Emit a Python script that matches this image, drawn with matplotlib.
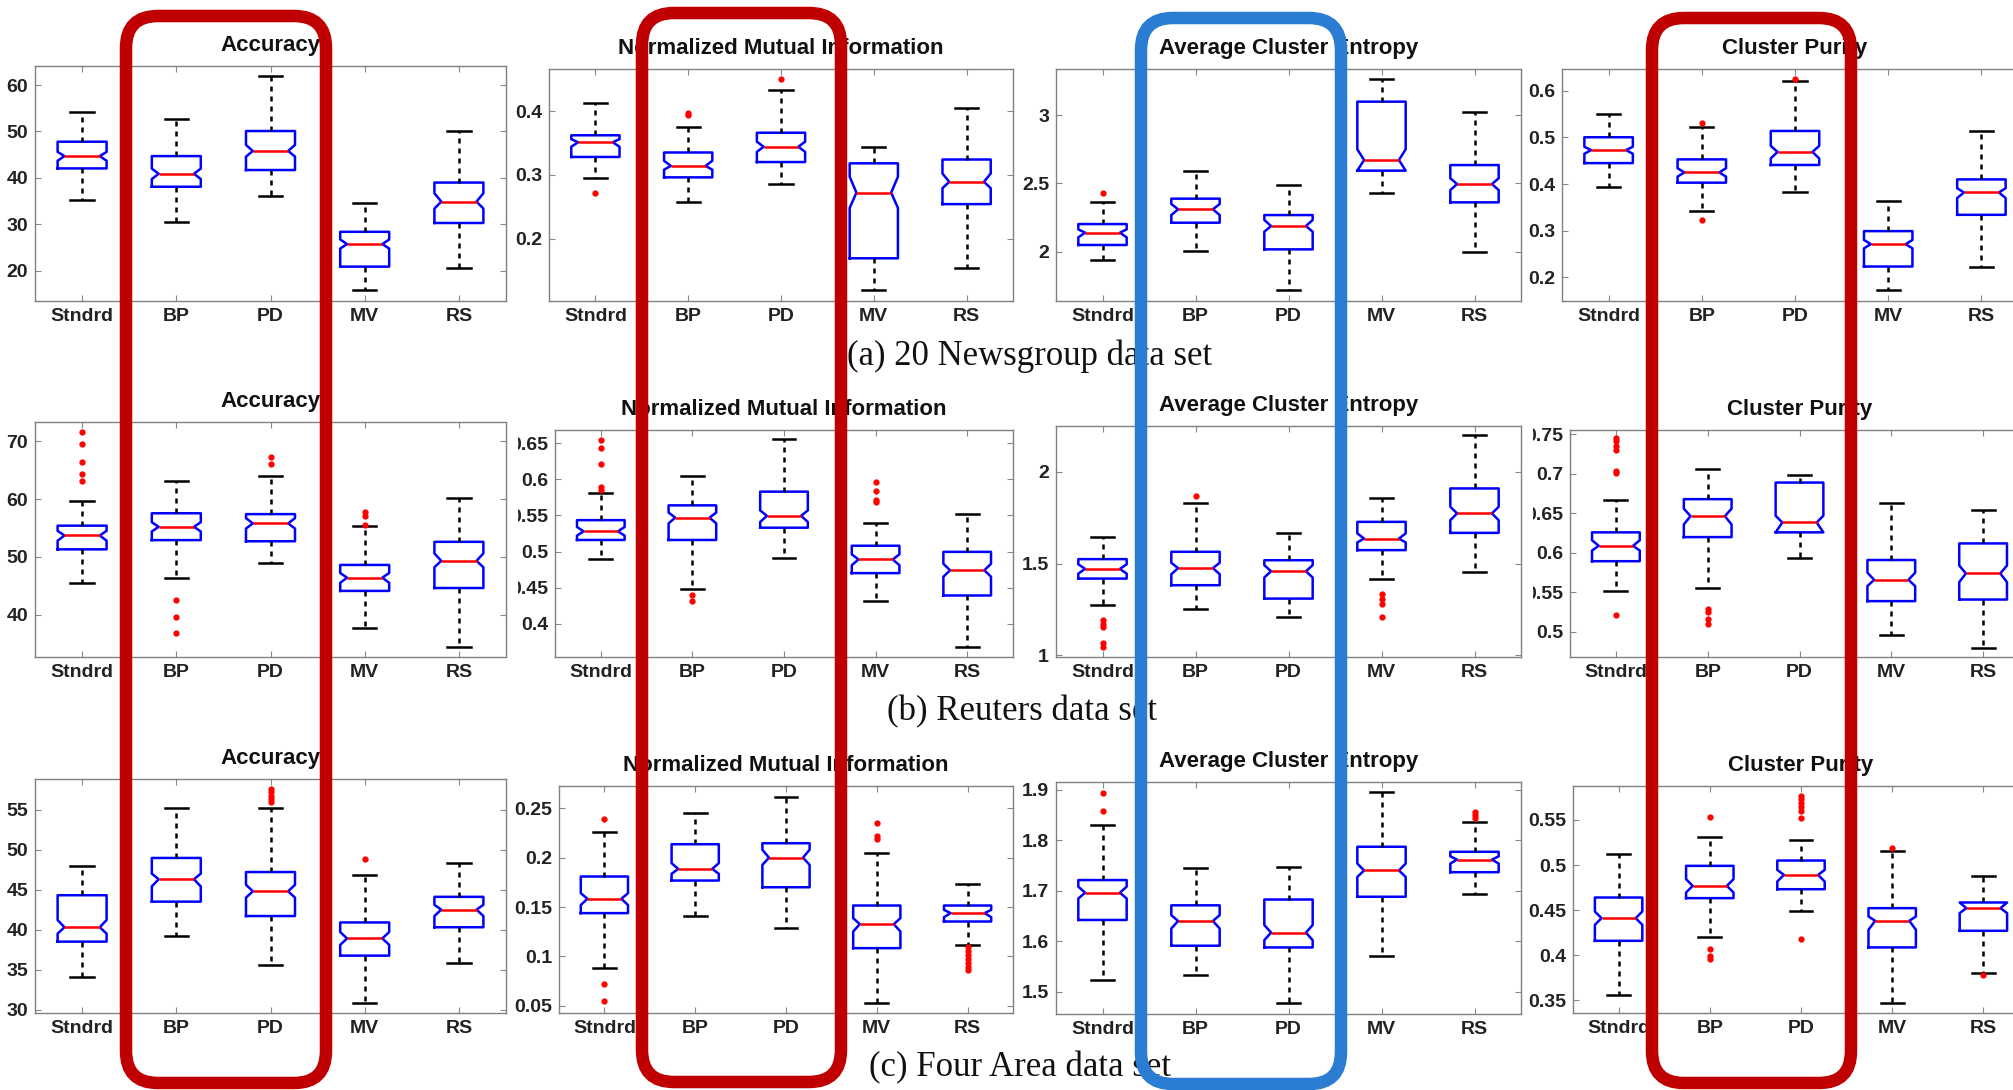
import matplotlib
matplotlib.use("Agg")
import matplotlib.pyplot as plt
from matplotlib.patches import FancyBboxPatch
from matplotlib.ticker import FormatStrFormatter
from matplotlib.transforms import Bbox, TransformedBbox

methods = ["Stndrd", "BP", "PD", "MV", "RS"]
metrics = ["Accuracy", "Normalized Mutual Information", "Average Cluster Entropy", "Cluster Purity"]
captions = ["(a) 20 Newsgroup data set", "(b) Reuters data set", "(c) Four Area data set"]

# one row per method: whislo, q1, cilo, med, cihi, q3, whishi
news_acc = [[35.2, 42.05, 43.7, 44.7, 45.6, 47.8, 54.3],
            [30.6, 38.1, 39.75, 40.9, 42.0, 44.7, 52.7],
            [36.1, 41.7, 44.6, 45.8, 47.1, 50.1, 61.9],
            [15.8, 20.9, 24.8, 25.75, 26.75, 28.4, 34.65],
            [20.6, 30.3, 33.4, 34.9, 36.7, 39.0, 50.0]]
news_acc_out = [[], [], [], [], []]

news_nmi = [[0.295, 0.328, 0.344, 0.351, 0.356, 0.362, 0.412],
            [0.257, 0.296, 0.308, 0.314, 0.322, 0.335, 0.375],
            [0.285, 0.320, 0.336, 0.344, 0.352, 0.366, 0.433],
            [0.120, 0.169, 0.248, 0.272, 0.297, 0.318, 0.343],
            [0.154, 0.254, 0.279, 0.289, 0.302, 0.324, 0.405]]
news_nmi_out = [[0.272], [0.394, 0.397], [0.450], [], []]

news_ace = [[1.939, 2.049, 2.105, 2.139, 2.163, 2.202, 2.366],
            [2.007, 2.212, 2.268, 2.310, 2.349, 2.388, 2.593],
            [1.720, 2.017, 2.146, 2.188, 2.232, 2.268, 2.485],
            [2.427, 2.593, 2.593, 2.671, 2.749, 3.098, 3.261],
            [2.000, 2.361, 2.451, 2.495, 2.537, 2.634, 3.024]]
news_ace_out = [[2.427], [], [], [], []]

news_pur = [[0.393, 0.445, 0.465, 0.473, 0.480, 0.5005, 0.551],
            [0.343, 0.403, 0.416, 0.425, 0.434, 0.453, 0.522],
            [0.382, 0.441, 0.455, 0.469, 0.482, 0.514, 0.622],
            [0.173, 0.223, 0.262, 0.271, 0.280, 0.299, 0.363],
            [0.223, 0.334, 0.370, 0.382, 0.391, 0.410, 0.513]]
news_pur_out = [[], [0.532, 0.323], [0.626], [], []]

reut_acc = [[45.5, 51.3, 52.8, 53.7, 54.5, 55.4, 59.75],
            [46.3, 52.9, 54.4, 55.2, 56.0, 57.55, 63.2],
            [48.9, 52.7, 54.9, 55.8, 56.7, 57.4, 64.0],
            [37.75, 44.1, 45.5, 46.4, 47.2, 48.6, 55.35],
            [34.4, 44.6, 48.2, 49.3, 50.6, 52.6, 60.2]]
reut_acc_out = [[71.6, 69.6, 66.4, 64.3, 63.2], [42.6, 39.5, 36.8], [67.3, 66.0],
                [57.8, 57.1, 55.6], []]

reut_nmi = [[0.489, 0.516, 0.522, 0.528, 0.534, 0.5435, 0.5815],
            [0.448, 0.516, 0.539, 0.547, 0.554, 0.564, 0.6046],
            [0.491, 0.533, 0.541, 0.5495, 0.557, 0.583, 0.656],
            [0.4315, 0.470, 0.481, 0.489, 0.496, 0.508, 0.540],
            [0.3676, 0.439, 0.465, 0.474, 0.483, 0.4995, 0.552]]
reut_nmi_out = [[0.654, 0.643, 0.622, 0.590, 0.585], [0.439, 0.432], [],
                [0.596, 0.584, 0.571, 0.568], []]

reut_ace = [[1.276, 1.418, 1.445, 1.471, 1.496, 1.524, 1.645],
            [1.255, 1.382, 1.442, 1.475, 1.504, 1.564, 1.831],
            [1.209, 1.309, 1.424, 1.458, 1.491, 1.518, 1.664],
            [1.415, 1.573, 1.615, 1.636, 1.664, 1.727, 1.855],
            [1.453, 1.667, 1.736, 1.773, 1.809, 1.909, 2.198]]
reut_ace_out = [[1.191, 1.173, 1.155, 1.067, 1.045], [1.867], [],
                [1.336, 1.309, 1.282, 1.209], []]

reut_pur = [[0.5515, 0.5895, 0.603, 0.609, 0.616, 0.626, 0.667],
            [0.556, 0.620, 0.636, 0.6465, 0.656, 0.668, 0.706],
            [0.593, 0.626, 0.626, 0.6385, 0.647, 0.689, 0.698],
            [0.4966, 0.539, 0.558, 0.566, 0.575, 0.591, 0.6626],
            [0.480, 0.541, 0.563, 0.574, 0.584, 0.612, 0.654]]
reut_pur_out = [[0.745, 0.741, 0.735, 0.730, 0.703, 0.701, 0.522],
                [0.5296, 0.525, 0.517, 0.510], [], [], []]

four_acc = [[34.04, 38.5, 39.5, 40.3, 41.2, 44.3, 47.9],
            [39.2, 43.5, 45.4, 46.3, 47.0, 48.96, 55.25],
            [35.6, 41.7, 44.0, 44.8, 45.6, 47.2, 55.2],
            [30.8, 36.75, 38.1, 38.9, 39.7, 40.9, 46.8],
            [35.8, 40.3, 41.7, 42.5, 43.1, 44.1, 48.3]]
four_acc_out = [[], [], [57.6, 57.2, 56.75, 56.3, 56.0], [48.8], []]

four_nmi = [[0.0885, 0.1438, 0.152, 0.1583, 0.164, 0.1809, 0.2257],
            [0.1411, 0.1768, 0.1836, 0.1886, 0.1944, 0.2136, 0.2456],
            [0.1286, 0.170, 0.1927, 0.200, 0.208, 0.2146, 0.2618],
            [0.0527, 0.1083, 0.1252, 0.1326, 0.1387, 0.1515, 0.2045],
            [0.1117, 0.1353, 0.1397, 0.1438, 0.1471, 0.1515, 0.1731]]
four_nmi_out = [[0.239, 0.0723, 0.0547], [], [], [0.235, 0.222, 0.2186],
                [0.109, 0.105, 0.101, 0.097, 0.093, 0.089, 0.0865]]

four_ace = [[1.524, 1.642, 1.6845, 1.696, 1.708, 1.721, 1.830],
            [1.534, 1.591, 1.625, 1.640, 1.6516, 1.671, 1.7445],
            [1.477, 1.5876, 1.602, 1.617, 1.632, 1.6825, 1.746],
            [1.5705, 1.688, 1.7273, 1.740, 1.7537, 1.787, 1.895],
            [1.693, 1.7366, 1.7537, 1.7616, 1.768, 1.777, 1.8354]]
four_ace_out = [[1.893, 1.858], [], [], [], [1.856, 1.849, 1.843]]

four_pur = [[0.3563, 0.416, 0.4338, 0.4411, 0.4485, 0.464, 0.512],
            [0.4197, 0.4633, 0.4696, 0.4769, 0.4843, 0.4991, 0.5308],
            [0.4485, 0.4732, 0.4817, 0.4891, 0.4946, 0.505, 0.5279],
            [0.347, 0.4087, 0.4282, 0.4382, 0.443, 0.4522, 0.5157],
            [0.3803, 0.4271, 0.4467, 0.4522, 0.4585, 0.4585, 0.4884]]
four_pur_out = [[], [0.553, 0.4068, 0.3987, 0.3958],
                [0.5766, 0.573, 0.5685, 0.564, 0.560, 0.5518, 0.4179], [0.5186], [0.3784]]

ylims = [(13.5, 64.1), (0.102, 0.466), (1.639, 3.337), (0.149, 0.647),
         (32.65, 73.36), (0.3537, 0.6685), (0.991, 2.249), (0.4683, 0.7555),
         (29.58, 58.83), (0.0426, 0.2726), (1.4558, 1.9152), (0.336, 0.5876)]
yticks = [[20, 30, 40, 50, 60], [0.2, 0.3, 0.4], [2, 2.5, 3], [0.2, 0.3, 0.4, 0.5, 0.6],
          [40, 50, 60, 70], [0.4, 0.45, 0.5, 0.55, 0.6, 0.65], [1, 1.5, 2], [0.5, 0.55, 0.6, 0.65, 0.7, 0.75],
          [30, 35, 40, 45, 50, 55], [0.05, 0.1, 0.15, 0.2, 0.25], [1.5, 1.6, 1.7, 1.8, 1.9], [0.35, 0.4, 0.45, 0.5, 0.55]]

panels = [news_acc, news_nmi, news_ace, news_pur,
          reut_acc, reut_nmi, reut_ace, reut_pur,
          four_acc, four_nmi, four_ace, four_pur]
outliers = [news_acc_out, news_nmi_out, news_ace_out, news_pur_out,
            reut_acc_out, reut_nmi_out, reut_ace_out, reut_pur_out,
            four_acc_out, four_nmi_out, four_ace_out, four_pur_out]

W, H = 2013, 1090
plt.rcParams['font.family'] = ['Liberation Sans', 'DejaVu Sans']
plt.rcParams['font.weight'] = 'bold'
fig = plt.figure(figsize=(W / 100, H / 100), dpi=100)

# axes frames in pixels: left, top, right, bottom
frames = [(35, 66, 506, 301), (549, 69, 1013, 301), (1056, 69, 1521, 301), (1562, 69, 2028, 301),
          (35, 422, 506, 657), (555, 430, 1013, 657), (1056, 426, 1521, 657), (1570, 430, 2029, 657),
          (35, 779, 506, 1013), (559, 786, 1013, 1013), (1056, 782, 1521, 1014), (1573, 786, 2029, 1013)]
# the source sub-figures were cropped: left edge of visible tick labels (pixels)
label_clip = {5: 518, 7: 1533}

bw = 0.52
nw = bw * 0.36

for k, (l, t, r, b) in enumerate(frames):
    ax = fig.add_axes([l / W, 1 - b / H, (r - l) / W, (b - t) / H])
    stats = []
    for i, row in enumerate(panels[k]):
        lo, q1, cilo, med, cihi, q3, hi = row
        stats.append(dict(label=methods[i], whislo=lo, q1=q1, cilo=cilo, med=med,
                          cihi=cihi, q3=q3, whishi=hi, fliers=outliers[k][i]))
    art = ax.bxp(stats, widths=bw, capwidths=0.25, shownotches=True,
                 boxprops=dict(color='blue', lw=1.8),
                 medianprops=dict(color='red', lw=1.8),
                 whiskerprops=dict(color='black', lw=1.8, linestyle=(0, (2, 2))),
                 capprops=dict(color='black', lw=1.8),
                 flierprops=dict(marker='o', markersize=3.5, markerfacecolor='red',
                                 markeredgecolor='red', linestyle='none'))
    # wider notch, like MATLAB
    for i, box in enumerate(art['boxes']):
        pos = i + 1
        x = list(box.get_xdata())
        x[3] = pos + nw
        x[8] = pos - nw
        box.set_xdata(x)
        art['medians'][i].set_xdata([pos - nw, pos + nw])
    ax.set_xlim(0.5, 5.5)
    ax.set_ylim(*ylims[k])
    ax.set_yticks(yticks[k])
    ax.yaxis.set_major_formatter(FormatStrFormatter('%g'))
    ax.set_title(metrics[k % 4], fontsize=16, fontweight='bold', pad=11, color='#111111')
    ax.tick_params(direction='in', length=4, width=0.8, color='#888888', top=True, right=True,
                   labelsize=14, labelcolor='#222222', pad=5)
    for s in ax.spines.values():
        s.set_color('#808080')
        s.set_linewidth(1.0)
    if k in label_clip:
        clip = TransformedBbox(Bbox.from_extents(label_clip[k] / W, 0, 1, 1), fig.transFigure)
        for lab in ax.get_yticklabels():
            lab.set_clip_box(clip)
            lab.set_clip_on(True)

ov = fig.add_axes([0, 0, 1, 1], zorder=10)
ov.set_xlim(0, W)
ov.set_ylim(H, 0)
ov.axis('off')
ov.patch.set_alpha(0)

cap_pos = [(1030, 356), (1022, 712), (1020, 1068)]
for (cx, cy), txt in zip(cap_pos, captions):
    ov.text(cx, cy, txt, ha='center', va='center', fontsize=25, fontweight='normal',
            family=['Liberation Serif', 'DejaVu Serif'], color='#111111', zorder=1)

# highlight frames: x0, y0, x1, y1, colour
marks = [(126, 16, 326, 1083, '#C00000'), (642, 13, 841, 1082, '#C00000'),
         (1141, 18, 1341, 1084, '#2B7CD3'), (1652, 18, 1851, 1083, '#C00000')]
for x0, y0, x1, y1, c in marks:
    ov.add_patch(FancyBboxPatch((x0, y0), x1 - x0, y1 - y0,
                                boxstyle="round,pad=0,rounding_size=32",
                                lw=9, edgecolor=c, facecolor='none', zorder=5))

fig.savefig("out.png", dpi=100)
